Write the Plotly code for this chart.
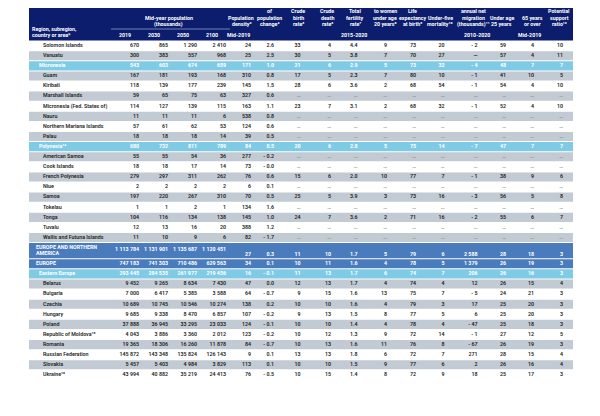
import plotly.graph_objects as go

N = None  # shown as "…" (not available)

names = ["Solomon Islands", "Vanuatu", "Micronesia", "Guam", "Kiribati", "Marshall Islands",
         "Micronesia (Fed. States of)", "Nauru", "Northern Mariana Islands", "Palau",
         "Polynesia¹⁴", "American Samoa", "Cook Islands", "French Polynesia", "Niue",
         "Samoa", "Tokelau", "Tonga", "Tuvalu", "Wallis and Futuna Islands",
         "EUROPE AND NORTHERN<br>AMERICA", "EUROPE", "Eastern Europe", "Belarus", "Bulgaria",
         "Czechia", "Hungary", "Poland", "Republic of Moldova¹⁵", "Romania",
         "Russian Federation", "Slovakia", "Ukraine¹⁶"]
levels = ["c", "c", "s", "c", "c", "c", "c", "c", "c", "c", "s", "c", "c", "c", "c", "c", "c",
          "c", "c", "c", "r", "r", "s", "c", "c", "c", "c", "c", "c", "c", "c", "c", "c"]

pop_2019 = [670, 300, 543, 167, 118, 59, 114, 11, 57, 18, 680, 55, 18, 279, 2, 197, 1, 104, 12, 11,
            1113784, 747183, 293445, 9452, 7000, 10689, 9685, 37888, 4043, 19365, 145872, 5457, 43994]
pop_2030 = [865, 383, 603, 181, 139, 65, 127, 11, 61, 18, 732, 55, 18, 297, 2, 220, 1, 116, 13, 10,
            1131901, 741303, 284535, 9265, 6417, 10745, 9338, 36945, 3886, 18306, 143348, 5403, 40882]
pop_2050 = [1290, 557, 674, 193, 177, 75, 139, 11, 62, 18, 811, 54, 17, 311, 2, 267, 2, 134, 16, 9,
            1135687, 710486, 261977, 8634, 5385, 10546, 8470, 33295, 3360, 16260, 135824, 4984, 35219]
pop_2100 = [2410, 968, 659, 168, 239, 63, 115, 6, 53, 14, 789, 36, 14, 262, 2, 310, 1, 138, 20, 6,
            1120451, 629563, 219456, 7430, 3588, 10274, 6857, 23033, 2012, 11878, 126143, 3829, 24413]
density = [24, 25, 171, 310, 145, 327, 163, 538, 124, 39, 84, 277, 73, 76, 6, 70, 134, 145, 388, 82,
           27, 34, 16, 47, 64, 138, 107, 124, 123, 84, 9, 113, 76]
growth = [2.6, 2.5, 1.0, 0.8, 1.5, 0.6, 1.1, 0.8, 0.6, 0.5, 0.5, -0.2, -0.0, 0.6, 0.1, 0.5, 1.6, 1.0,
          1.2, -1.7, 0.3, 0.1, -0.1, 0.0, -0.7, 0.2, -0.2, -0.1, -0.2, -0.7, 0.1, 0.1, -0.5]
birth_rate = [33, 30, 21, 17, 28, N, 23, N, N, N, 20, N, N, 15, N, 25, N, 24, N, N,
              11, 10, 11, 12, 9, 10, 9, 10, 10, 10, 13, 10, 10]
death_rate = [4, 5, 6, 5, 6, N, 7, N, N, N, 6, N, N, 6, N, 5, N, 7, N, N,
              10, 11, 13, 13, 15, 10, 13, 10, 12, 13, 13, 10, 15]
fertility = [4.4, 3.8, 2.9, 2.3, 3.6, N, 3.1, N, N, N, 2.8, N, N, 2.0, N, 3.9, N, 3.6, N, N,
             1.7, 1.6, 1.7, 1.7, 1.6, 1.6, 1.5, 1.4, 1.3, 1.6, 1.8, 1.5, 1.4]
teen_births = [9, 7, 5, 7, 2, N, 2, N, N, N, 5, N, N, 10, N, 3, N, 2, N, N,
               5, 4, 6, 4, 13, 4, 8, 4, 9, 11, 6, 9, 8]
life_exp = [73, 70, 73, 80, 68, N, 68, N, N, N, 75, N, N, 77, N, 73, N, 71, N, N,
            79, 78, 74, 74, 75, 79, 77, 78, 72, 76, 72, 77, 72]
under5 = [20, 27, 32, 10, 54, N, 32, N, N, N, 14, N, N, 7, N, 16, N, 16, N, N,
          6, 5, 7, 4, 7, 3, 5, 4, 14, 8, 7, 6, 9]
migration = [-2, "—", -4, -1, -1, N, -1, N, N, N, -7, N, N, -1, N, -3, N, -2, N, N,
             2588, 1379, 206, 12, -5, 17, 6, -47, -1, -67, 271, 2, 18]
under25 = [59, 57, 48, 41, 54, N, 52, N, N, N, 47, N, N, 38, N, 56, N, 55, N, N,
           28, 26, 26, 26, 24, 25, 25, 25, 27, 26, 28, 26, 25]
over65 = [4, 4, 7, 10, 4, N, 4, N, N, N, 7, N, N, 9, N, 5, N, 6, N, N,
          18, 19, 16, 15, 21, 20, 20, 18, 12, 19, 15, 16, 17]
support = [10, 11, 7, 5, 10, N, 10, N, N, N, 7, N, N, 6, N, 8, N, 7, N, N,
           3, 3, 3, 4, 3, 3, 3, 3, 5, 3, 4, 4, 3]

pop_years = ["2019", "2030", "2050", "2100"]
period_labels = ["Mid-2019", "2015-2020", "2010-2020", "Mid-2019"]
titles = [
    ["Mid-year population", "(thousands)"],
    ["Population", "density³"],
    ["Average", "annual rate", "of", "population", "change⁴"],
    ["Crude", "birth", "rate⁵"],
    ["Crude", "death", "rate⁶"],
    ["Total", "fertility", "rate⁷"],
    ["Percentage", "of births", "to women", "under age", "20 years⁸"],
    ["Life", "expectancy", "at birth⁹"],
    ["Under-five", "mortality¹⁰"],
    ["Average", "annual net", "migration", "(thousands)¹¹"],
    ["Under age", "25 years"],
    ["65 years", "or over"],
    ["Potential", "support", "ratio¹²"],
]

# ---- layout constants (page pixels; the page body has an 8px margin) ----
PAGE_OFF = 8
X0, X1 = 29, 573
TOP, PITCH = 40.6, 10.1
HEAD_LAST, HEAD_STEP = 24, 6.5
title_x = [168.5, 241, 269, 298, 327, 355, 385, 412.7, 440, 473.5, 501.7, 532.3, 559.3]
FONT = "Roboto"
NAVY = "#0b1d6c"
GRAY = "#c2cad3"
SUB = "#7fcbe6"
REG = "#4a7bbc"

columns = [  # values, right edge, decimals
    (pop_2019, 139, 0), (pop_2030, 168, 0), (pop_2050, 197, 0), (pop_2100, 226, 0),
    (density, 251, 0), (growth, 274, 1), (birth_rate, 300.5, 0), (death_rate, 331, 0),
    (fertility, 357.5, 1), (teen_births, 387, 0), (life_exp, 416, 0), (under5, 444.5, 0),
    (migration, 477.5, 0), (under25, 506, 0), (over65, 534, 0), (support, 563, 0),
]


def fmt(v, dec=0):
    if v is None:
        return "…"
    if isinstance(v, str):
        return v
    s = f"{v:,.{dec}f}".replace(",", " ")
    if s.startswith("-"):
        s = "- " + s[1:]
    return s


# row geometry and colours
tops, heights, fills = [], [], []
y = TOP
k = 1
for name, lev in zip(names, levels):
    h = PITCH * (1.6 if "<br>" in name else 1)
    tops.append(y)
    heights.append(h)
    y += h
    if lev == "r":
        fills.append(REG)
        k = 0
    elif lev == "s":
        fills.append(SUB)
        k = 0
    else:
        k += 1
        fills.append(GRAY if k % 2 == 1 else "white")
centers = [t + h / 2 for t, h in zip(tops, heights)]
text_col = ["#1e1e1e" if lev == "c" else "white" for lev in levels]
weights = [600 if lev == "c" else "bold" for lev in levels]

fig = go.Figure()

shapes = [
    dict(type="rect", x0=X0, x1=X1, y0=0, y1=TOP, fillcolor=NAVY, line_width=0, layer="below"),
    dict(type="line", x0=111, x1=230, y0=29, y1=29, line=dict(color="#8e9bc4", width=0.8)),
    dict(type="line", x0=488, x1=543, y0=5, y1=5, line=dict(color="#8e9bc4", width=0.8)),
]
for t, h, f in zip(tops, heights, fills):
    if f != "white":
        shapes.append(dict(type="rect", x0=X0, x1=X1, y0=t + 0.5, y1=t + h - 0.5,
                           fillcolor=f, line_width=0, layer="below"))

# names
indent = {"r": 36, "s": 39, "c": 43}
fig.add_trace(go.Scatter(
    x=[indent[l] for l in levels], y=centers, mode="text", text=names,
    textposition="middle right", marker=dict(size=0),
    textfont=dict(family=FONT, size=5.3, color=text_col, weight=weights),
    hoverinfo="skip", showlegend=False))

# numbers
for ci, (vals, xr, dec) in enumerate(columns):
    ys = []
    for i, c in enumerate(centers):
        if "<br>" in names[i]:
            ys.append(c - 0.6 if ci < 4 else c + 3.6)
        else:
            ys.append(c)
    txt = [fmt(v, dec) for v in vals]
    cols = ["#8a8a8a" if v is None else text_col[i] for i, v in enumerate(vals)]
    fig.add_trace(go.Scatter(
        x=[xr] * len(vals), y=ys, mode="text", text=txt, textposition="middle left",
        marker=dict(size=0),
        textfont=dict(family=FONT, size=5.3, color=cols, weight=weights),
        hoverinfo="skip", showlegend=False))

# header text, one annotation per line
head_font = dict(family=FONT, size=5.3, color="white", weight="bold")
annotations = []


def head(text, x, y, xanchor="center"):
    annotations.append(dict(text=text, x=x, y=y, xref="x", yref="y", showarrow=False,
                            xanchor=xanchor, yanchor="middle", font=head_font))


def head_block(lines, x, last_y, xanchor="center"):
    n = len(lines)
    for j, line in enumerate(lines):
        head(line, x, last_y - (n - 1 - j) * HEAD_STEP, xanchor)


head_block(["Region, subregion,", "country or area*"], X0 + 0.5, 35, xanchor="left")
for lines, x in zip(titles, title_x):
    head_block(lines, x, HEAD_LAST)
head_block(["Percentage of total", "population"], 516, 1.7)

for yr, (vals, xr, dec) in zip(pop_years, columns[:4]):
    head(yr, xr - 6, 35, xanchor="right")
head(period_labels[0], 252, 35, xanchor="right")
head(period_labels[1], 353.7, 35)
head(period_labels[2], 476.7, 35)
head(period_labels[3], 529.5, 35)

fig.update_layout(
    width=600, height=416, margin=dict(l=0, r=0, t=0, b=0),
    paper_bgcolor="white", plot_bgcolor="white",
    xaxis=dict(range=[PAGE_OFF, 600 + PAGE_OFF], visible=False, fixedrange=True),
    yaxis=dict(range=[416 + PAGE_OFF, PAGE_OFF], visible=False, fixedrange=True),
    shapes=shapes, annotations=annotations, hovermode=False,
)

fig.write_html("out.html")
